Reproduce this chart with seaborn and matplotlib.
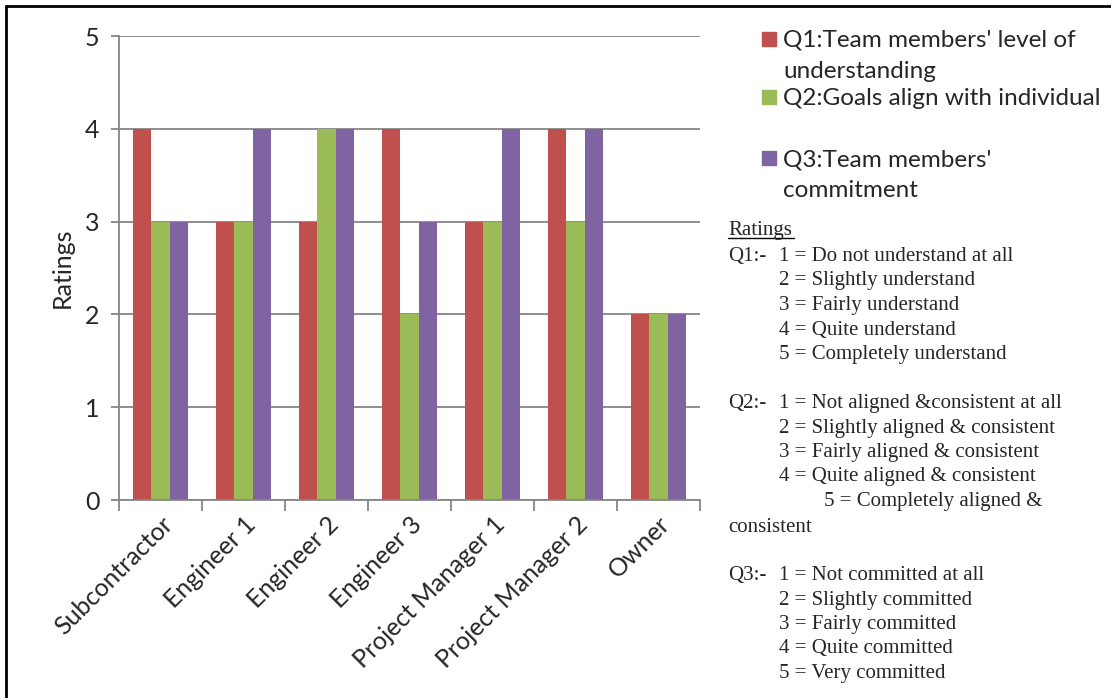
import numpy as np
import pandas as pd
import matplotlib
matplotlib.use("Agg")
import matplotlib.pyplot as plt
import seaborn as sns
from matplotlib.patches import Rectangle
from matplotlib.lines import Line2D

sns.set_theme(style="white")
plt.rcParams["font.family"] = ["Lato", "DejaVu Sans"]

roles = ["Subcontractor", "Engineer 1", "Engineer 2", "Engineer 3",
         "Project Manager 1", "Project Manager 2", "Owner"]
q1 = [4, 3, 3, 4, 3, 4, 2]
q2 = [3, 3, 4, 2, 3, 3, 2]
q3 = [3, 4, 4, 3, 4, 4, 2]
questions = ["Q1", "Q2", "Q3"]
legend_lines = [["Q1:Team members' level of", "understanding"],
                ["Q2:Goals align with individual"],
                ["Q3:Team members'", "commitment"]]
colors = ["#C0504D", "#9BBB59", "#8064A2"]
y_ticks = [0, 1, 2, 3, 4, 5]

# rating scale notes (left column label, indented text)
notes = [
    ("Q1:-", "1 = Do not understand at all"),
    ("", "2 = Slightly understand"),
    ("", "3 = Fairly understand"),
    ("", "4 = Quite understand"),
    ("", "5 = Completely understand"),
    ("Q2:-", "1 = Not aligned &consistent at all"),
    ("", "2 = Slightly aligned & consistent"),
    ("", "3 = Fairly aligned & consistent"),
    ("", "4 = Quite aligned & consistent"),
    ("", "5 = Completely aligned &"),
    ("consistent", ""),
    ("Q3:-", "1 = Not committed at all"),
    ("", "2 = Slightly committed"),
    ("", "3 = Fairly committed"),
    ("", "4 = Quite committed"),
    ("", "5 = Very committed"),
]
note_baselines = [261, 285.5, 310, 334.5, 359,
                  408, 432.5, 457, 481.5, 506, 532,
                  580, 604.5, 629, 653.5, 678]
note_indents = [779] * 9 + [824] + [779] * 6

df = pd.DataFrame({
    "Role": roles * 3,
    "Question": np.repeat(questions, len(roles)),
    "Rating": q1 + q2 + q3,
})

W, H = 1111, 698
fig = plt.figure(figsize=(W / 100, H / 100), dpi=100)


def fx(x):
    return x / W


def fy(y):
    return 1 - y / H


ax = fig.add_axes([fx(119), fy(500), 581 / W, 464 / H])

sns.barplot(data=df, x="Role", y="Rating", hue="Question", palette=colors,
            width=0.67, gap=0, saturation=1, linewidth=0, errorbar=None,
            legend=False, ax=ax)

grid_c = "#868686"
ax.set_xlim(-0.5, len(roles) - 0.5)
ax.set_ylim(0, 5)
ax.set_yticks(y_ticks)
ax.yaxis.grid(True, color=grid_c, linewidth=1.3)
ax.set_axisbelow(True)
for s in ["top", "right"]:
    ax.spines[s].set_visible(False)
for s in ["left", "bottom"]:
    ax.spines[s].set_color(grid_c)
    ax.spines[s].set_linewidth(1.3)

ax.set_xticks(range(len(roles)))
ax.set_xticklabels(roles, rotation=45, ha="right", rotation_mode="anchor",
                   fontsize=18)
ax.set_xticks(np.arange(-0.5, len(roles)), minor=True)
ax.tick_params(axis="x", which="major", length=0, pad=9)
ax.tick_params(axis="x", which="minor", length=8, width=1.3, color=grid_c,
               direction="out", bottom=True)
ax.tick_params(axis="y", length=6, width=1.3, color=grid_c, left=True,
               labelsize=18, pad=8)
ax.set_xlabel("")
ax.set_ylabel("Ratings", fontsize=18, labelpad=8)

# legend
sq_tops = [32, 90, 151]
text_baselines = [[46, 78], [105], [167, 197]]
for color, top, lines, bases in zip(colors, sq_tops, legend_lines, text_baselines):
    fig.patches.append(Rectangle((fx(762), fy(top + 14)), 14 / W, 14 / H,
                                 transform=fig.transFigure, color=color))
    for line, b in zip(lines, bases):
        fig.text(fx(783), fy(b), line, fontsize=17.5, va="baseline", ha="left")

# ratings notes
serif = ["Liberation Serif", "DejaVu Serif"]
fig.text(fx(728), fy(235), "Ratings", family=serif, fontsize=15, va="baseline")
fig.add_artist(Line2D([fx(728), fx(794)], [fy(238), fy(238)], color="black",
                      linewidth=1, transform=fig.transFigure))
for (lead, body), b, xi in zip(notes, note_baselines, note_indents):
    if lead:
        fig.text(fx(728), fy(b), lead, family=serif, fontsize=15, va="baseline")
    if body:
        fig.text(fx(xi), fy(b), body, family=serif, fontsize=15, va="baseline")

# outer frame (top and left edges)
fig.add_artist(Line2D([fx(6), 1], [fy(6), fy(6)], color="black", linewidth=2,
                      transform=fig.transFigure))
fig.add_artist(Line2D([fx(6), fx(6)], [fy(6), 0], color="black", linewidth=2,
                      transform=fig.transFigure))

fig.savefig("out.png", dpi=100)
